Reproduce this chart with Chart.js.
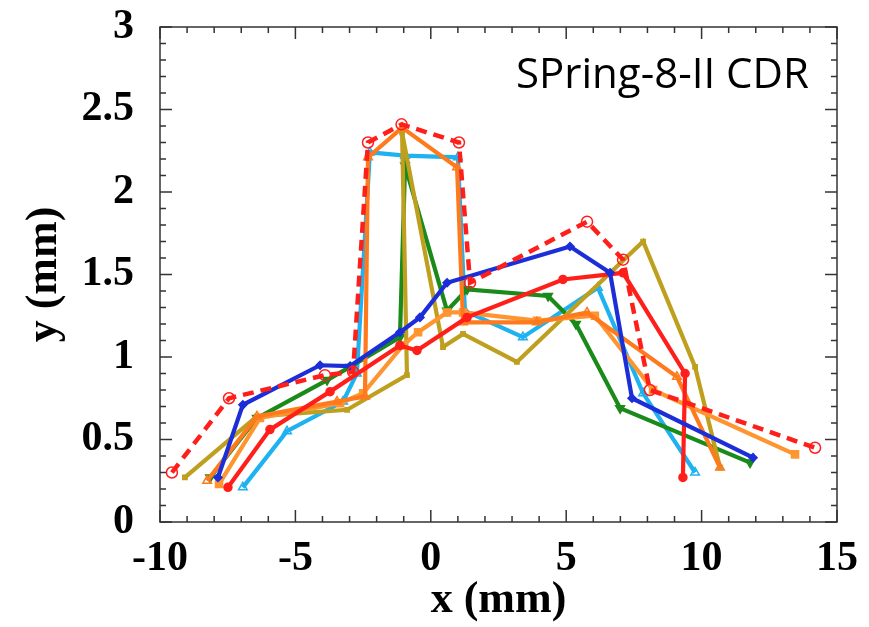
<!DOCTYPE html>
<html><head><meta charset="utf-8">
<script src="https://cdn.jsdelivr.net/npm/chart.js@4"></script>
<style>
html,body{margin:0;padding:0;background:#fff;}
#wrap{width:869px;height:627px;position:relative;overflow:hidden;}
#note{position:absolute;left:516px;top:51px;font-family:'Open Sans',sans-serif;font-size:42px;line-height:1;color:#000;white-space:nowrap;}
</style>
</head><body>
<div id="wrap"><canvas id="c" width="869" height="627"></canvas><div id="note">SPring-8-II CDR</div></div>
<script>
// ---- data ----
const xTicks = [-10, -5, 0, 5, 10, 15];
const yTicks = [0, 0.5, 1, 1.5, 2, 2.5, 3];

const designX = [-9.56, -7.45, -3.91, -2.87, -2.32, -1.08, 1.04, 1.45, 5.77, 7.10, 8.09, 14.19];
const designY = [0.30, 0.75, 0.89, 0.91, 2.30, 2.41, 2.30, 1.45, 1.82, 1.59, 0.80, 0.45];

const blueX = [-7.86, -6.94, -4.09, -2.98, -1.14, -0.40, 0.60, 5.14, 6.62, 7.43, 11.90];
const blueY = [0.27, 0.71, 0.95, 0.945, 1.15, 1.24, 1.45, 1.67, 1.51, 0.75, 0.39];

const redX = [-7.49, -5.94, -3.72, -1.14, -0.51, 1.34, 4.88, 7.10, 9.39, 9.31];
const redY = [0.21, 0.56, 0.79, 1.07, 1.04, 1.24, 1.47, 1.51, 0.90, 0.27];

const orangeAX = [-8.26, -6.42, -3.46, -2.43, -2.32, -1.06, 0.97, 1.19, 3.92, 5.77, 9.09, 10.68];
const orangeAY = [0.25, 0.64, 0.73, 0.76, 2.21, 2.39, 2.15, 1.21, 1.21, 1.27, 0.88, 0.33];

const orangeBX = [-7.82, -6.31, -3.35, -2.50, -1.03, -0.47, 0.60, 1.19, 3.92, 6.06, 8.21, 13.45];
const orangeBY = [0.23, 0.63, 0.72, 0.78, 1.07, 1.15, 1.27, 1.27, 1.22, 1.25, 0.80, 0.41];

const oliveX = [-9.08, -6.42, -3.09, -0.88, -1.06, 0.45, 1.19, 3.18, 7.84, 9.76, 10.68];
const oliveY = [0.27, 0.64, 0.68, 0.89, 2.36, 1.06, 1.14, 0.97, 1.70, 0.94, 0.33];

const greenX = [-8.15, -6.42, -3.83, -2.98, -1.14, -0.95, 0.60, 1.34, 4.33, 5.36, 6.99, 11.79];
const greenY = [0.27, 0.63, 0.86, 0.94, 1.12, 2.16, 1.28, 1.41, 1.37, 1.20, 0.69, 0.36];

const cyanX = [-6.94, -5.31, -3.24, -2.73, -2.25, -0.95, 1.00, 1.26, 3.40, 6.17, 7.84, 9.76];
const cyanY = [0.21, 0.55, 0.73, 0.90, 2.24, 2.22, 2.21, 1.28, 1.12, 1.42, 0.78, 0.30];

const pts = (xs, ys) => xs.map((x, i) => ({x, y: ys[i]}));

const COL = {
  red: '#ff1f1a', blue: '#1c2ed8', orangeA: '#ff7a1c', orangeB: '#ff9530',
  olive: '#bf9f1e', green: '#1a8a1a', cyan: '#1eb2f0'
};

function ds(label, data, color, extra) {
  return Object.assign({
    label, data, showLine: true, tension: 0,
    borderColor: color, backgroundColor: color,
    borderWidth: 4.2, pointRadius: 3.5, pointBorderWidth: 1.5,
    pointBackgroundColor: color, pointBorderColor: color
  }, extra || {});
}

const datasets = [
  ds('design', pts(designX, designY), COL.red, {borderDash: [11, 7], borderWidth: 4.5,
     pointStyle: 'circle', pointRadius: 5.5, pointBackgroundColor: 'rgba(255,255,255,0)', pointBorderWidth: 1.5}),
  ds('blue', pts(blueX, blueY), COL.blue, {pointStyle: 'rectRot', pointRadius: 4}),
  ds('red', pts(redX, redY), COL.red, {pointStyle: 'circle', pointRadius: 4}),
  ds('orangeA', pts(orangeAX, orangeAY), COL.orangeA, {pointStyle: 'triangle', pointRadius: 5,
     pointBackgroundColor: 'rgba(255,255,255,0)'}),
  ds('orangeB', pts(orangeBX, orangeBY), COL.orangeB, {pointStyle: 'rect', pointRadius: 5}),
  ds('olive', pts(oliveX, oliveY), COL.olive, {pointStyle: 'rect', pointRadius: 3}),
  ds('green', pts(greenX, greenY), COL.green, {pointStyle: 'triangle', rotation: 180, pointRadius: 5}),
  ds('cyan', pts(cyanX, cyanY), COL.cyan, {pointStyle: 'triangle', pointRadius: 5,
     pointBackgroundColor: 'rgba(255,255,255,0)'})
];

const framePlugin = {
  id: 'frame',
  beforeDatasetsDraw(chart) {
    const {ctx, chartArea: a, scales: {x, y}} = chart;
    ctx.save();
    ctx.strokeStyle = '#333';
    ctx.lineWidth = 1.5;
    ctx.strokeRect(a.left, a.top, a.right - a.left, a.bottom - a.top);
    ctx.beginPath();
    for (let i = 0; i <= 25; i++) {
      const v = x.min + i;
      const px = x.getPixelForValue(v);
      const len = (i % 5 === 0) ? 12 : 6;
      ctx.moveTo(px, a.bottom); ctx.lineTo(px, a.bottom - len);
      ctx.moveTo(px, a.top); ctx.lineTo(px, a.top + len);
    }
    for (let i = 0; i <= 30; i++) {
      const v = y.min + i * 0.1;
      const py = y.getPixelForValue(v);
      const len = (i % 5 === 0) ? 12 : 6;
      ctx.moveTo(a.left, py); ctx.lineTo(a.left + len, py);
      ctx.moveTo(a.right, py); ctx.lineTo(a.right - len, py);
    }
    ctx.stroke();
    ctx.restore();
  }
};

const tickFont = {family: "'Liberation Serif', 'Times New Roman', serif", weight: 'bold', size: 42};
const titleFont = {family: "'Liberation Serif', 'Times New Roman', serif", weight: 'bold', size: 44};

new Chart(document.getElementById('c'), {
  type: 'scatter',
  data: {datasets},
  options: {
    responsive: false,
    animation: false,
    devicePixelRatio: 1,
    layout: {padding: {top: 27, right: 32, left: 0, bottom: 0}},
    plugins: {legend: {display: false}, tooltip: {enabled: false}},
    scales: {
      x: {
        type: 'linear', min: -10, max: 15,
        afterBuildTicks: s => { s.ticks = xTicks.map(v => ({value: v})); },
        afterFit: s => { s.height = 105; s.paddingLeft = 0; s.paddingRight = 0; },
        ticks: {color: '#000', font: tickFont, padding: 4, maxRotation: 0, autoSkip: false,
                callback: v => String(v)},
        grid: {display: false},
        border: {display: false},
        title: {display: true, text: 'x (mm)', color: '#000', font: titleFont, padding: {top: 0, bottom: 0}}
      },
      y: {
        type: 'linear', min: 0, max: 3,
        afterBuildTicks: s => { s.ticks = yTicks.map(v => ({value: v})); },
        afterFit: s => { s.width = 160; s.paddingTop = 0; s.paddingBottom = 0; },
        ticks: {color: '#000', font: tickFont, padding: 18, autoSkip: false,
                callback: v => String(v)},
        grid: {display: false},
        border: {display: false},
        title: {display: true, text: 'y (mm)', color: '#000', font: titleFont, padding: {top: 18, bottom: 0}}
      }
    }
  },
  plugins: [framePlugin]
});
</script>
</body></html>
